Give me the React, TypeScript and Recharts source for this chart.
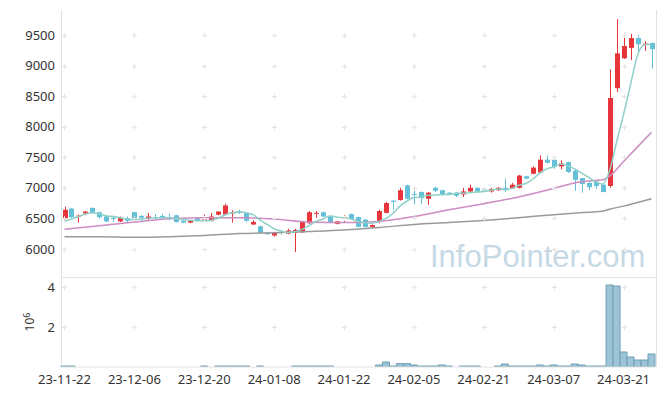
import { ComposedChart, Bar, Line, XAxis, YAxis, ReferenceDot } from "recharts"

// trading days (yy-mm-dd)
const dates = [
  "23-11-22", "23-11-23", "23-11-24", "23-11-27", "23-11-28", "23-11-29", "23-11-30", "23-12-01", "23-12-04", "23-12-05",
  "23-12-06", "23-12-07", "23-12-08", "23-12-11", "23-12-12", "23-12-13", "23-12-14", "23-12-15", "23-12-18", "23-12-19",
  "23-12-20", "23-12-21", "23-12-22", "23-12-26", "23-12-27", "23-12-28", "24-01-02", "24-01-03", "24-01-04", "24-01-05",
  "24-01-08", "24-01-09", "24-01-10", "24-01-11", "24-01-12", "24-01-15", "24-01-16", "24-01-17", "24-01-18", "24-01-19",
  "24-01-22", "24-01-23", "24-01-24", "24-01-25", "24-01-26", "24-01-29", "24-01-30", "24-01-31", "24-02-01", "24-02-02",
  "24-02-05", "24-02-06", "24-02-07", "24-02-08", "24-02-13", "24-02-14", "24-02-15", "24-02-16", "24-02-19", "24-02-20",
  "24-02-21", "24-02-22", "24-02-23", "24-02-26", "24-02-27", "24-02-28", "24-02-29", "24-03-04", "24-03-05", "24-03-06",
  "24-03-07", "24-03-08", "24-03-11", "24-03-12", "24-03-13", "24-03-14", "24-03-15", "24-03-18", "24-03-19", "24-03-20",
  "24-03-21", "24-03-22", "24-03-25", "24-03-26", "24-03-27",
]

const opens = [
  6500, 6660, 6530, 6580, 6670, 6600, 6530, 6510, 6450, 6500,
  6600, 6540, 6490, 6520, 6540, 6520, 6550, 6460, 6430, 6500,
  6480, 6460, 6560, 6560, 6580, 6620, 6590, 6400, 6370, 6270,
  6220, 6280, 6250, 6260, 6270, 6420, 6580, 6600, 6540, 6410,
  6510, 6570, 6520, 6480, 6360, 6440, 6590, 6790, 6800, 7040,
  6900, 6930, 6820, 7000, 6960, 6920, 6920, 6890, 6940, 7000,
  6970, 6940, 6960, 7000, 6990, 7000, 7190, 7230, 7250, 7460,
  7460, 7350, 7420, 7280, 7160, 7080, 7100, 7050, 7030, 8630,
  9120, 9290, 9450, 9340, 9370,
]
const highs = [
  6690, 6670, 6560, 6620, 6680, 6610, 6550, 6540, 6530, 6530,
  6610, 6550, 6590, 6570, 6570, 6580, 6560, 6470, 6470, 6510,
  6560, 6590, 6620, 6740, 6630, 6640, 6600, 6470, 6380, 6280,
  6280, 6310, 6330, 6330, 6460, 6620, 6620, 6610, 6550, 6460,
  6550, 6580, 6530, 6490, 6400, 6640, 6770, 6800, 7000, 7050,
  6990, 6940, 6930, 7020, 6970, 6930, 6930, 7000, 7050, 7010,
  7000, 7000, 7010, 7150, 7080, 7210, 7200, 7350, 7530, 7530,
  7470, 7450, 7430, 7290, 7160, 7090, 7110, 7060, 8940, 9760,
  9470, 9520, 9500, 9400, 9380,
]
const lows = [
  6480, 6510, 6430, 6550, 6580, 6490, 6440, 6440, 6440, 6440,
  6460, 6460, 6460, 6480, 6490, 6470, 6430, 6420, 6420, 6450,
  6460, 6450, 6550, 6550, 6430, 6570, 6440, 6390, 6250, 6230,
  6200, 6230, 6240, 5950, 6260, 6410, 6510, 6520, 6420, 6400,
  6440, 6480, 6350, 6350, 6340, 6420, 6580, 6640, 6790, 6810,
  6730, 6730, 6720, 6930, 6870, 6880, 6850, 6850, 6930, 6930,
  6930, 6920, 6950, 6930, 6980, 6990, 7140, 7220, 7240, 7400,
  7310, 7300, 7240, 6950, 6920, 6960, 6980, 6930, 7000, 8570,
  9110, 9090, 9200, 9240, 8950,
]
const closes = [
  6640, 6520, 6545, 6610, 6590, 6520, 6450, 6490, 6510, 6460,
  6490, 6510, 6530, 6510, 6500, 6510, 6440, 6430, 6460, 6460,
  6500, 6530, 6610, 6710, 6600, 6590, 6460, 6440, 6260, 6240,
  6260, 6270, 6300, 6310, 6440, 6600, 6590, 6530, 6440, 6450,
  6520, 6490, 6360, 6360, 6390, 6620, 6750, 6770, 6960, 6820,
  6890, 6830, 6920, 6950, 6890, 6900, 6870, 6940, 7000, 6940,
  6960, 6980, 7000, 6970, 7050, 7200, 7150, 7330, 7460, 7410,
  7340, 7400, 7260, 7130, 7060, 7010, 7030, 6930, 8470, 9200,
  9320, 9450, 9350, 9360, 9270,
]

const volumes = [
  50000, 50000, 0, 0, 0, 0, 0, 0, 0, 0,
  0, 0, 0, 0, 0, 0, 0, 0, 0, 0,
  50000, 0, 50000, 50000, 50000, 50000, 50000, 0, 50000, 0,
  0, 0, 0, 50000, 50000, 50000, 50000, 50000, 50000, 0,
  0, 0, 0, 0, 0, 100000, 250000, 50000, 170000, 170000,
  100000, 50000, 50000, 50000, 100000, 50000, 0, 50000, 50000, 50000,
  0, 0, 50000, 150000, 50000, 50000, 50000, 50000, 100000, 50000,
  100000, 50000, 50000, 150000, 100000, 50000, 50000, 50000, 4100000, 4050000,
  750000, 500000, 350000, 350000, 650000,
]

// moving averages
const ma5 = [
  6450, 6490, 6530, 6570, 6590, 6570, 6540, 6530, 6510, 6490,
  6480, 6490, 6500, 6510, 6510, 6510, 6500, 6480, 6470, 6460,
  6460, 6470, 6500, 6560, 6590, 6610, 6590, 6560, 6470, 6400,
  6330, 6290, 6270, 6280, 6320, 6380, 6450, 6490, 6540, 6520,
  6510, 6490, 6450, 6430, 6420, 6450, 6500, 6580, 6700, 6780,
  6840, 6850, 6880, 6880, 6890, 6890, 6910, 6910, 6920, 6930,
  6940, 6960, 6980, 6970, 6990, 7040, 7070, 7140, 7240, 7310,
  7340, 7390, 7360, 7310, 7240, 7170, 7100, 7060, 7280, 7750,
  8200, 8690, 9170, 9340, 9350,
]
const ma20Points = [
  [0, 6320], [5, 6380], [10, 6440], [15, 6495], [20, 6510], [25, 6510],
  [30, 6490], [35, 6440], [40, 6430], [45, 6450], [50, 6530], [55, 6640],
  [60, 6740], [65, 6850], [70, 6990], [73, 7080], [76, 7120], [77, 7130],
  [78, 7190], [80, 7430], [82, 7670], [84, 7910],
]
const ma60Points = [
  [0, 6200], [5, 6200], [10, 6190], [15, 6200], [20, 6220], [25, 6250],
  [30, 6265], [35, 6285], [40, 6310], [45, 6350], [50, 6400], [55, 6430],
  [60, 6465], [65, 6510], [70, 6560], [75, 6600], [77, 6615], [78, 6650],
  [80, 6700], [82, 6760], [84, 6820],
]

const priceTicks = [6000, 6500, 7000, 7500, 8000, 8500, 9000, 9500]
const volTicks = [2000000, 4000000]
const dateTicks = dates.filter((_, i) => i % 10 === 0)

const UP = "#e8353c"
const DOWN = "#64c0d9"
const FRAME = "#e2e2e2"

const pick = (pts: number[][], i: number) => {
  const p = pts.find((q) => q[0] === i)
  return p ? p[1] : null
}

const rows = dates.map((date, i) => ({
  date,
  open: opens[i],
  high: highs[i],
  low: lows[i],
  close: closes[i],
  range: [lows[i], highs[i]],
  volume: volumes[i],
  ma5: ma5[i],
  ma20: pick(ma20Points, i),
  ma60: pick(ma60Points, i),
}))

function Candle(props: any) {
  const { x, y, width, height, payload } = props
  if (x == null || y == null) return null
  const { open, close, high, low } = payload
  const color = close >= open ? UP : DOWN
  const top = Math.min(y, y + height)
  const h = Math.abs(height)
  const span = high - low || 1
  const py = (v: number) => top + ((high - v) / span) * h
  const cx = Math.round(x + width / 2)
  const b1 = py(Math.max(open, close))
  const b2 = py(Math.min(open, close))
  return (
    <g>
      <line x1={cx + 0.5} x2={cx + 0.5} y1={top} y2={top + h} stroke={color} strokeWidth={1} />
      <rect x={cx - 2} y={b1} width={5} height={Math.max(b2 - b1, 1)} fill={color} />
    </g>
  )
}

// faint "+" marks at grid crossings
const Plus = (props: any) => {
  const { cx, cy } = props
  if (cx == null || cy == null) return null
  const x = Math.round(cx)
  const y = Math.round(cy)
  return (
    <path
      d={`M${x - 2},${y + 0.5}h5M${x + 0.5},${y - 2}v5`}
      stroke="#e4e4e4"
      strokeWidth={1}
    />
  )
}

const tickStyle = { fontSize: 13, fill: "#333", fontFamily: "Noto Sans" }

export default function App() {
  return (
    <div
      style={{
        position: "absolute",
        left: 0,
        top: 0,
        width: 665,
        height: 396,
        background: "#fff",
        fontFamily: "'Noto Sans', sans-serif",
        overflow: "hidden",
      }}
    >
      {/* watermark */}
      <div
        style={{
          position: "absolute",
          left: 430,
          top: 241,
          fontFamily: "'Liberation Sans', sans-serif",
          fontSize: 31,
          lineHeight: "31px",
          color: "#c6d9e5",
          whiteSpace: "nowrap",
        }}
      >
        InfoPointer.com
      </div>
      {/* plot frames */}
      <div style={{ position: "absolute", left: 61, top: 10, width: 594, height: 357, borderLeft: `1px solid ${FRAME}`, borderRight: `1px solid ${FRAME}` }} />
      <div style={{ position: "absolute", left: 61, top: 277, width: 595, height: 0, borderTop: `1px solid ${FRAME}` }} />

      <div style={{ position: "absolute", left: 0, top: 0 }}>
        <ComposedChart width={665} height={277} data={rows} margin={{ top: 10, right: 10, bottom: 0, left: 0 }}>
          <XAxis dataKey="date" hide />
          <YAxis
            domain={[5540, 9910]}
            ticks={priceTicks}
            allowDataOverflow
            width={61}
            tickSize={4}
            axisLine={false}
            tickLine={false}
            tick={tickStyle}
          />
          {dateTicks.map((d) =>
            priceTicks.map((p) => (
              <ReferenceDot key={d + p} x={d} y={p} shape={Plus} ifOverflow="visible" />
            ))
          )}
          <Bar dataKey="range" shape={Candle} barSize={5} isAnimationActive={false} />
          <Line type="monotone" dataKey="ma60" stroke="#9a9a9a" strokeWidth={1.5} dot={false} connectNulls isAnimationActive={false} />
          <Line type="monotone" dataKey="ma20" stroke="#cc8dc3" strokeWidth={1.5} dot={false} connectNulls isAnimationActive={false} />
          <Line type="monotone" dataKey="ma5" stroke="#8fd0c8" strokeWidth={1.5} dot={false} isAnimationActive={false} />
        </ComposedChart>
      </div>

      <div style={{ position: "absolute", left: 0, top: 277 }}>
        <ComposedChart
          width={665}
          height={119}
          data={rows}
          margin={{ top: 1, right: 10, bottom: 0, left: 0 }}
          barCategoryGap={0}
          barGap={0}
        >
          <XAxis
            dataKey="date"
            interval={9}
            height={29}
            tickSize={6}
            tickLine={false}
            axisLine={{ stroke: FRAME }}
            tick={tickStyle}
          />
          <YAxis
            domain={[0, 4450000]}
            ticks={volTicks}
            allowDataOverflow
            width={61}
            tickSize={4}
            axisLine={false}
            tickLine={false}
            tick={tickStyle}
            tickFormatter={(v: number) => String(v / 1000000)}
            label={{
              content: () => (
                <text
                  transform="translate(34,45) rotate(-90)"
                  textAnchor="middle"
                  fontSize={12}
                  fill="#333"
                  fontFamily="Noto Sans"
                >
                  10
                  <tspan dy={-4} fontSize={9}>6</tspan>
                </text>
              ),
            }}
          />
          {dateTicks.map((d) =>
            volTicks.map((v) => (
              <ReferenceDot key={d + v} x={d} y={v} shape={Plus} ifOverflow="visible" />
            ))
          )}
          <Bar dataKey="volume" fill="#9cc4d6" stroke="#6f9fb6" strokeWidth={1} isAnimationActive={false} />
        </ComposedChart>
      </div>
    </div>
  )
}
